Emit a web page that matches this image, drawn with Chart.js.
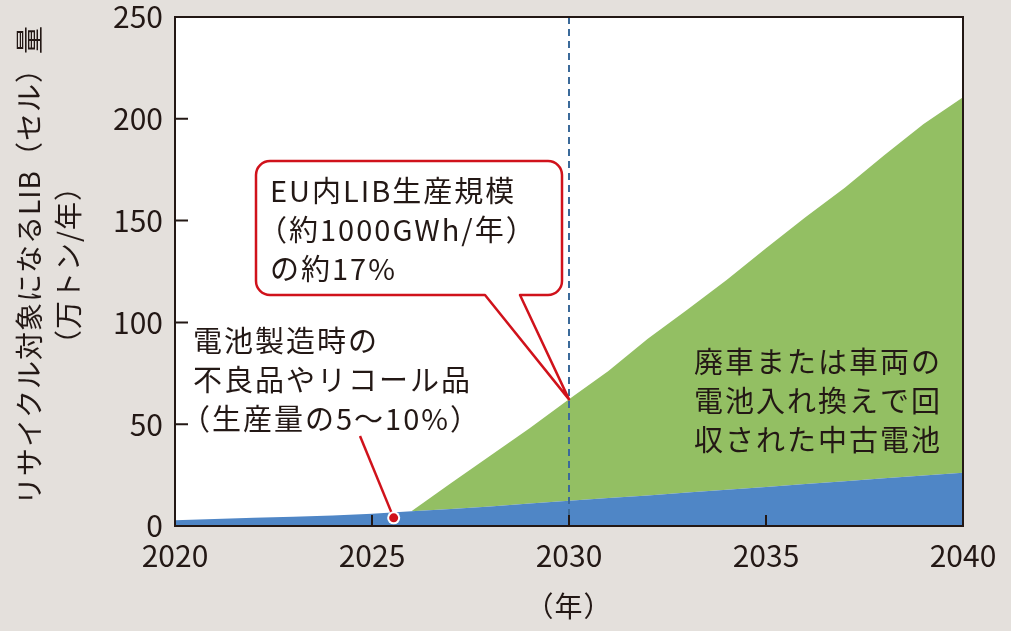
<!DOCTYPE html>
<html lang="ja">
<head>
<meta charset="utf-8">
<script src="https://cdn.jsdelivr.net/npm/chart.js@4.4.1/dist/chart.umd.min.js"></script>
<style>
  html, body { margin: 0; padding: 0; background: #e4e0dc; }
  #wrap { width: 1011px; height: 631px; }
</style>
</head>
<body>
<div id="wrap"><canvas id="chart" width="1011" height="631"></canvas></div>
<script>
// data (万トン/年)
const years = [2020, 2021, 2022, 2023, 2024, 2025, 2026, 2027, 2028, 2029, 2030,
               2031, 2032, 2033, 2034, 2035, 2036, 2037, 2038, 2039, 2040];
// 電池製造時の不良品やリコール品 (blue)
const defectVals = [2.8, 3.4, 4.0, 4.6, 5.2, 6.0, 7.2, 8.3, 9.6, 11.0, 12.4,
                    13.7, 15.0, 16.4, 17.8, 19.2, 20.6, 22.0, 23.4, 24.8, 26.2];
// 廃車または車両の電池入れ換えで回収された中古電池 (green, stacked on blue)
const usedVals = [0, 0, 0, 0, 0, 0, 0, 12.7, 24.9, 37.0, 49.8,
                  62.4, 77.0, 89.8, 103.0, 117.2, 131.0, 144.1, 158.7, 172.7, 184.4];
const xTicks = [2020, 2025, 2030, 2035, 2040];
const yTicks = [0, 50, 100, 150, 200, 250];

const yTitle = ["リサイクル対象になるLIB（セル）量", "（万トン/年）"];
const xTitle = "（年）";
const calloutLines = ["EU内LIB生産規模", "（約1000GWh/年）", "の約17%"];
const defectLines = ["電池製造時の", "不良品やリコール品", "（生産量の5～10%）"];
const usedLines = ["廃車または車両の", "電池入れ換えで回", "収された中古電池"];
const markYear = 2030;

const INK = "#231815";
const RED = "#d0121b";
const JP = '"Noto Sans CJK JP", "Noto Sans", sans-serif';

// full-width opening parens carry blank space on the left; pull them in
function drawLines(ctx, lines, x, y0, step) {
  lines.forEach((t, i) => {
    const dx = t.startsWith("（") ? -12 : 0;
    ctx.fillText(t, x + dx, y0 + i * step);
  });
}

const decor = {
  id: "decor",
  beforeDraw(chart) {
    const { ctx, chartArea: a } = chart;
    ctx.save();
    ctx.fillStyle = "#e4e0dc";
    ctx.fillRect(0, 0, chart.width, chart.height);
    ctx.fillStyle = "#fff";
    ctx.fillRect(a.left, a.top, a.right - a.left, a.bottom - a.top);
    ctx.restore();
  },
  afterDatasetsDraw(chart) {
    const { ctx, chartArea: a, scales: { x, y } } = chart;
    ctx.save();

    // dashed marker at 2030
    const mx = x.getPixelForValue(markYear);
    ctx.strokeStyle = "#3b6a9a";
    ctx.lineWidth = 2;
    ctx.setLineDash([7, 5]);
    ctx.beginPath();
    ctx.moveTo(mx, a.top);
    ctx.lineTo(mx, a.bottom);
    ctx.stroke();
    ctx.setLineDash([]);

    // frame + inward ticks
    ctx.strokeStyle = INK;
    ctx.lineWidth = 2;
    ctx.strokeRect(a.left, a.top, a.right - a.left, a.bottom - a.top);
    ctx.beginPath();
    yTicks.slice(1, -1).forEach(v => {
      const py = y.getPixelForValue(v);
      ctx.moveTo(a.left, py);
      ctx.lineTo(a.left + 13, py);
    });
    xTicks.slice(1, -1).forEach(v => {
      const px = x.getPixelForValue(v);
      ctx.moveTo(px, a.bottom);
      ctx.lineTo(px, a.bottom - 11);
    });
    ctx.stroke();

    // callout pointing at the 2030 total
    const i30 = years.indexOf(markYear);
    const tipX = mx;
    const tipY = y.getPixelForValue(defectVals[i30] + usedVals[i30]);
    const L = 256, T = 161, R = 562, B = 295, r = 14;
    ctx.beginPath();
    ctx.moveTo(L + r, T);
    ctx.lineTo(R - r, T);
    ctx.arcTo(R, T, R, T + r, r);
    ctx.lineTo(R, B - r);
    ctx.arcTo(R, B, R - r, B, r);
    ctx.lineTo(520, B);
    ctx.lineTo(tipX, tipY);
    ctx.lineTo(485, B);
    ctx.lineTo(L + r, B);
    ctx.arcTo(L, B, L, B - r, r);
    ctx.lineTo(L, T + r);
    ctx.arcTo(L, T, L + r, T, r);
    ctx.closePath();
    ctx.fillStyle = "#fff";
    ctx.fill();
    ctx.strokeStyle = RED;
    ctx.lineWidth = 2.5;
    ctx.lineJoin = "round";
    ctx.stroke();

    // leader line to the defect series
    const dotX = x.getPixelForValue(2025.55);
    const dotY = y.getPixelForValue(4);
    ctx.beginPath();
    ctx.moveTo(360, 436);
    ctx.lineTo(dotX, dotY);
    ctx.lineWidth = 2.5;
    ctx.stroke();
    ctx.beginPath();
    ctx.arc(dotX, dotY, 6.5, 0, Math.PI * 2);
    ctx.fillStyle = "#fff";
    ctx.fill();
    ctx.beginPath();
    ctx.arc(dotX, dotY, 4.5, 0, Math.PI * 2);
    ctx.fillStyle = RED;
    ctx.fill();

    // texts
    ctx.fillStyle = INK;
    ctx.textAlign = "left";
    ctx.textBaseline = "middle";
    ctx.font = "29px " + JP;
    ctx.letterSpacing = "2px";
    drawLines(ctx, calloutLines, 270, 191, 39);
    drawLines(ctx, defectLines, 193, 341, 39);
    drawLines(ctx, usedLines, 694, 362, 39);

    // axis titles
    ctx.letterSpacing = "1px";
    ctx.textAlign = "center";
    ctx.font = "28px " + JP;
    ctx.fillText(xTitle, mx, 606);
    ctx.translate(29, 265);
    ctx.rotate(-Math.PI / 2);
    ctx.fillText(yTitle[0], 0, 0);
    ctx.fillText(yTitle[1], 0, 39);
    ctx.restore();
  }
};

new Chart(document.getElementById("chart"), {
  type: "line",
  data: {
    datasets: [
      {
        label: "不良品・リコール品",
        data: years.map((yr, i) => ({ x: yr, y: defectVals[i] })),
        backgroundColor: "#4f86c6",
        borderWidth: 0,
        borderColor: "rgba(0,0,0,0)",
        pointRadius: 0,
        fill: "origin"
      },
      {
        label: "中古電池",
        data: years.map((yr, i) => ({ x: yr, y: usedVals[i] })),
        backgroundColor: "#93bf63",
        borderWidth: 0,
        borderColor: "rgba(0,0,0,0)",
        pointRadius: 0,
        fill: "-1"
      }
    ]
  },
  options: {
    responsive: false,
    animation: false,
    layout: { padding: { top: 17, right: 48, left: 0, bottom: 0 } },
    plugins: { legend: { display: false }, tooltip: { enabled: false } },
    elements: { line: { tension: 0 } },
    scales: {
      x: {
        type: "linear",
        min: 2020,
        max: 2040,
        grid: { display: false, drawTicks: false },
        border: { display: false },
        afterBuildTicks: s => { s.ticks = xTicks.map(v => ({ value: v })); },
        afterFit: s => { s.height = 105; s.paddingLeft = 0; s.paddingRight = 0; },
        ticks: {
          padding: 12,
          color: INK,
          font: { family: JP, size: 30 },
          callback: v => String(v)
        }
      },
      y: {
        stacked: true,
        min: 0,
        max: 250,
        grid: { display: false, drawTicks: false },
        border: { display: false },
        afterBuildTicks: s => { s.ticks = yTicks.map(v => ({ value: v })); },
        afterFit: s => { s.width = 175; s.paddingTop = 0; s.paddingBottom = 0; },
        ticks: {
          padding: 12,
          color: INK,
          font: { family: JP, size: 30 }
        }
      }
    }
  },
  plugins: [decor]
});
</script>
</body>
</html>
